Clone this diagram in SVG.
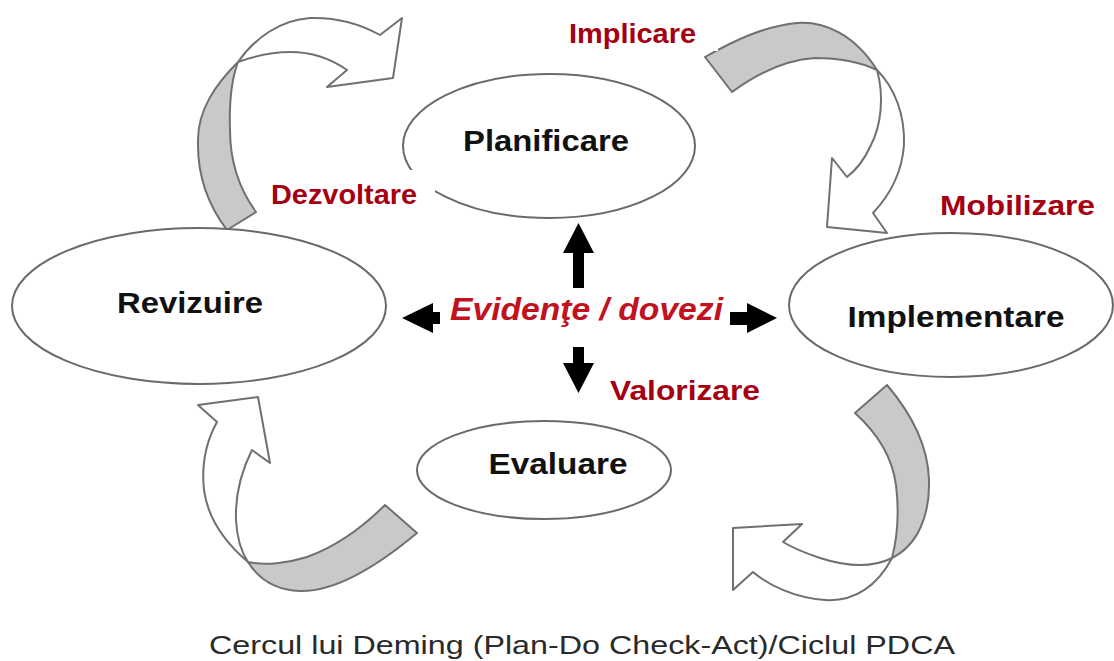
<svg xmlns="http://www.w3.org/2000/svg" width="1114" height="661" viewBox="0 0 1114 661">
<style>
.node{fill:#fff;stroke:#6a6a6a;stroke-width:2}
.lbl{font-family:"Liberation Sans",Arial,sans-serif;font-weight:bold;font-size:29px;fill:#111;text-anchor:middle}
.red{font-family:"Liberation Sans",Arial,sans-serif;font-weight:bold;font-size:27px;fill:#a50012}
.back{fill:#c9c9c9;stroke:#707070;stroke-width:2;stroke-linejoin:round}
.front{fill:#fff;stroke:#707070;stroke-width:2;stroke-linejoin:round}
.blk{fill:#000}
.box{fill:#fff}
</style>
<rect width="1114" height="661" fill="#fff"/>
<g id="connectors">
  <!-- top-left twisted arrow -->
  <path class="back" d="M238,62 C215,85 198,110 198,140 C197,175 208,205 227,230 L256,212 C240,190 230,165 230,130 C229,100 232,78 238,62 Z"/>
  <path class="front" d="M238,62 C255,38 280,20 310,18 C340,17 362,25 380,35 L402,18 L393,78 L327,87 L347,70 C330,58 310,52 290,52 C270,52 252,57 238,62 Z"/>
  <!-- top-right twisted arrow -->
  <path class="back" d="M705,57 C735,40 765,26 797,23 C825,21 855,35 877,70 C860,62 840,58 815,58 C785,60 755,75 732,92 Z"/>
  <path class="front" d="M877,70 C884,95 882,125 870,147 C864,160 856,170 847,177 L832,158 L827,227 L887,233 L873,213 C890,195 902,172 904,145 C905,115 895,88 877,70 Z"/>
  <!-- bottom-right twisted arrow -->
  <path class="back" d="M887,385 C910,412 928,445 929,480 C930,515 918,545 892,558 C898,535 899,510 896,485 C892,455 876,432 855,413 Z"/>
  <path class="front" d="M892,558 C872,568 848,567 820,558 C805,553 793,548 783,542 L802,524 L733,528 L733,590 L753,572 C768,585 795,598 825,600 C855,602 878,585 892,558 Z"/>
  <!-- bottom-left twisted arrow -->
  <path class="back" d="M385,505 C365,525 340,545 307,557 C288,563 265,566 248,562 C258,578 275,590 300,591 C335,592 375,568 417,533 Z"/>
  <path class="front" d="M248,562 C228,545 208,520 204,490 C201,462 207,440 217,422 L198,405 L258,397 L270,463 L252,450 C242,470 235,495 236,520 C237,540 242,553 248,562 Z"/>
  <!-- center arrows -->
  <path class="blk" d="M573,288 L573,253 L563,253 L578.5,223 L594,253 L584,253 L584,288 Z"/>
  <path class="blk" d="M440,312 L433,312 L433,303 L402,318 L433,333 L433,324 L440,324 Z"/>
  <path class="blk" d="M730,312 L747,312 L747,303 L777,318 L747,333 L747,325 L730,325 Z"/>
  <path class="blk" d="M573,347 L584,347 L584,363 L594,363 L578.5,393 L563,363 L573,363 Z"/>
</g>
<g id="planificare">
  <ellipse class="node" cx="549" cy="146" rx="146" ry="72"/>
  <text class="lbl" x="546" y="151" textLength="166" lengthAdjust="spacingAndGlyphs">Planificare</text>
</g>
<g id="revizuire">
  <ellipse class="node" cx="199" cy="306" rx="187" ry="78"/>
  <text class="lbl" x="190" y="313" textLength="146" lengthAdjust="spacingAndGlyphs">Revizuire</text>
</g>
<g id="implementare">
  <ellipse class="node" cx="951" cy="305" rx="162" ry="72"/>
  <text class="lbl" x="956" y="327" textLength="217" lengthAdjust="spacingAndGlyphs">Implementare</text>
</g>
<g id="evaluare">
  <ellipse class="node" cx="544" cy="470" rx="127" ry="49"/>
  <text class="lbl" x="558" y="474" textLength="139" lengthAdjust="spacingAndGlyphs">Evaluare</text>
</g>
<g id="labels">
  <rect class="box" x="556" y="14" width="162" height="37"/>
  <text class="red" x="569" y="43" textLength="127" lengthAdjust="spacingAndGlyphs">Implicare</text>
  <rect class="box" x="255" y="170" width="180" height="40"/>
  <text class="red" x="271" y="204" textLength="146" lengthAdjust="spacingAndGlyphs">Dezvoltare</text>
  <text class="red" x="940" y="215" font-size="25" textLength="155" lengthAdjust="spacingAndGlyphs" fill="#b8101e">Mobilizare</text>
  <text class="red" x="610" y="400" font-size="25" textLength="150" lengthAdjust="spacingAndGlyphs" fill="#b8101e">Valorizare</text>
  <text x="450" y="320" font-family="Liberation Sans, Arial, sans-serif" font-weight="bold" font-style="italic" font-size="32" fill="#c0121f" textLength="273" lengthAdjust="spacingAndGlyphs">Evidenţe / dovezi</text>
</g>
<text x="209" y="654" font-family="Liberation Sans, Arial, sans-serif" font-size="26" fill="#2a2a2a" textLength="746" lengthAdjust="spacingAndGlyphs">Cercul lui Deming (Plan-Do Check-Act)/Ciclul PDCA</text>
</svg>
